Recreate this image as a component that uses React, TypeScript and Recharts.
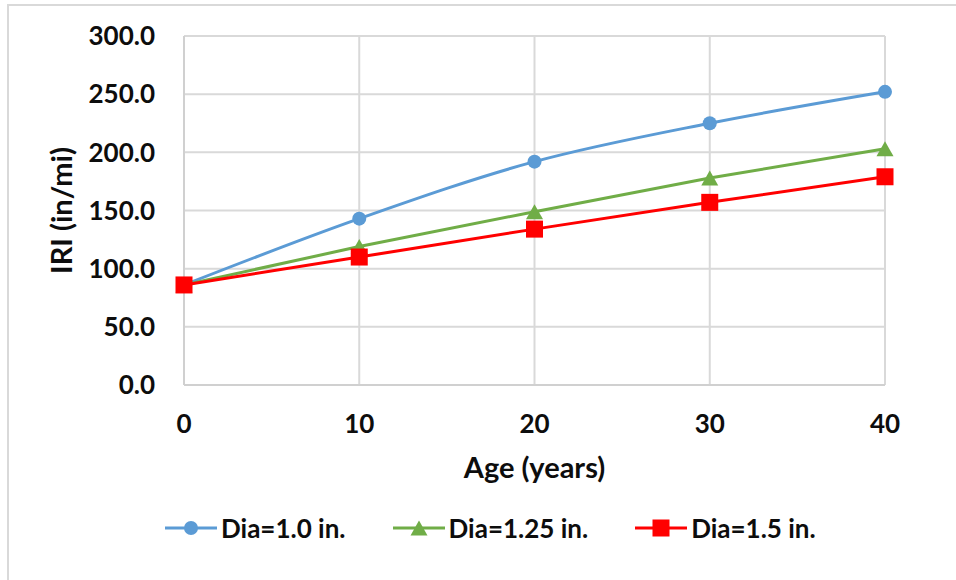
import { LineChart, Line, XAxis, YAxis, CartesianGrid } from "recharts";

// IRI growth over pavement age for three dowel diameters
const ages = [0, 10, 20, 30, 40];
const dia10 = [86, 143, 192, 225, 252];
const dia125 = [86, 119, 149, 178, 203];
const dia15 = [86, 110, 134, 157, 179];
const yTicks = [0, 50, 100, 150, 200, 250, 300];

const FONT = "Lato, 'Open Sans', sans-serif";
const INK = "#0d0d0d";
const GRID = "#d9d9d9";
const BLUE = "#5b9bd5";
const GREEN = "#70ad47";
const RED = "#ff0000";

const series = [
  { key: "d10", name: "Dia=1.0 in.", color: BLUE, shape: "circle" },
  { key: "d125", name: "Dia=1.25 in.", color: GREEN, shape: "triangle" },
  { key: "d15", name: "Dia=1.5 in.", color: RED, shape: "square" },
];

const data = ages.map((age, i) => ({
  age,
  d10: dia10[i],
  d125: dia125[i],
  d15: dia15[i],
}));

function Marker({ cx, cy, shape, color }: { cx?: number; cy?: number; shape: string; color: string }) {
  if (cx == null || cy == null) return null;
  if (shape === "triangle") {
    const w = 17;
    const h = 15;
    return (
      <path
        d={`M${cx},${cy - h / 2} L${cx + w / 2},${cy + h / 2} L${cx - w / 2},${cy + h / 2} Z`}
        fill={color}
      />
    );
  }
  if (shape === "square") {
    const s = 17;
    return <rect x={cx - s / 2} y={cy - s / 2} width={s} height={s} fill={color} />;
  }
  return <circle cx={cx} cy={cy} r={7} fill={color} />;
}

function LegendRow() {
  return (
    <div
      style={{
        position: "absolute",
        top: 512,
        left: 165,
        display: "flex",
        alignItems: "center",
        gap: 47,
        fontFamily: FONT,
        fontWeight: 700,
        fontSize: 26,
        color: INK,
        whiteSpace: "nowrap",
      }}
    >
      {series.map((s) => (
        <div key={s.key} style={{ display: "flex", alignItems: "center" }}>
          <svg width={52} height={30}>
            <line x1={0} y1={15} x2={52} y2={15} stroke={s.color} strokeWidth={3} />
            <Marker cx={26} cy={15} shape={s.shape} color={s.color} />
          </svg>
          <span style={{ marginLeft: 4 }}>{s.name}</span>
        </div>
      ))}
    </div>
  );
}

export default function App() {
  const tick = { fill: INK, fontSize: 26, fontWeight: 700, fontFamily: FONT };
  const title = { fill: INK, fontSize: 29, fontWeight: 700, fontFamily: FONT };
  return (
    <div
      style={{
        position: "absolute",
        left: 0,
        top: 0,
        width: 956,
        height: 580,
        background: "#fff",
      }}
    >
      <div
        style={{
          position: "absolute",
          left: 7,
          top: 4,
          right: 0,
          bottom: 0,
          borderTop: `2px solid ${GRID}`,
          borderLeft: `2px solid ${GRID}`,
        }}
      />
      <LineChart
        width={956}
        height={580}
        data={data}
        margin={{ top: 36, right: 71, bottom: 29, left: 0 }}
        style={{ position: "absolute", left: 0, top: 0 }}
      >
        <CartesianGrid stroke={GRID} strokeWidth={2} />
        <XAxis
          dataKey="age"
          type="number"
          domain={[0, 40]}
          ticks={ages}
          height={166}
          tickLine={false}
          tickSize={0}
          tickMargin={30}
          axisLine={{ stroke: "#d0d0d0", strokeWidth: 2 }}
          tick={tick}
          label={{ value: "Age (years)", position: "center", ...title }}
        />
        <YAxis
          type="number"
          domain={[0, 300]}
          ticks={yTicks}
          width={184}
          tickLine={false}
          tickSize={0}
          tickMargin={29}
          axisLine={{ stroke: "#d0d0d0", strokeWidth: 2 }}
          tick={tick}
          tickFormatter={(v: number) => v.toFixed(1)}
          label={{
            value: "IRI (in/mi)",
            angle: -90,
            position: "insideLeft",
            offset: 62,
            style: { textAnchor: "middle" },
            ...title,
          }}
        />
        {series.map((s) => (
          <Line
            key={s.key}
            dataKey={s.key}
            name={s.name}
            type={s.key === "d10" ? "monotone" : "linear"}
            stroke={s.color}
            strokeWidth={3}
            isAnimationActive={false}
            activeDot={false}
            dot={(p: any) => (
              <Marker key={`${s.key}-${p.index}`} cx={p.cx} cy={p.cy} shape={s.shape} color={s.color} />
            )}
          />
        ))}
      </LineChart>
      <LegendRow />
    </div>
  );
}
